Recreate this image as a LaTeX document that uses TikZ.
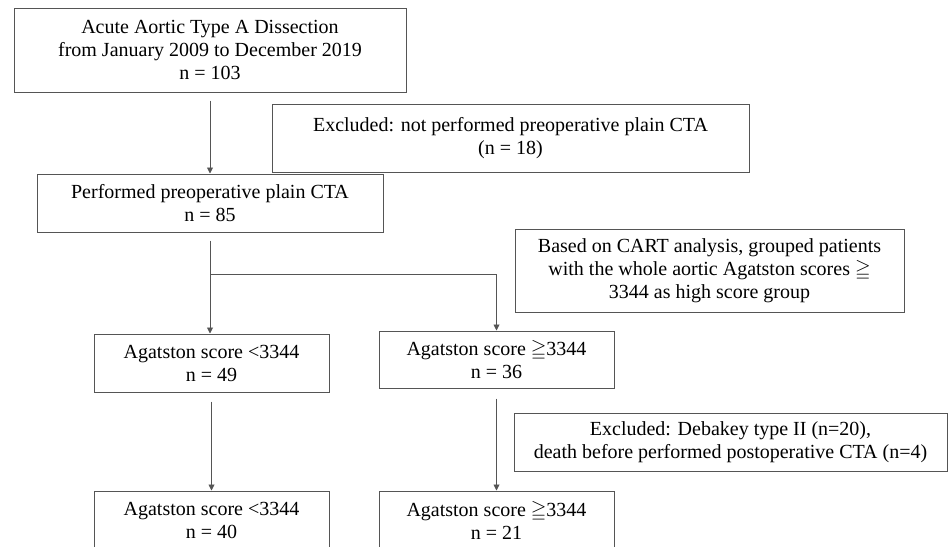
\documentclass[tikz,border=0pt]{standalone}
\usepackage{fontspec}
\usepackage{amsmath,amssymb}
\setmainfont{Liberation Serif}
\usetikzlibrary{positioning,arrows.meta,calc}
\definecolor{flowline}{RGB}{85,85,85}

\begin{document}
\begin{tikzpicture}[x=1pt, y=-1pt, every node/.style={font=\fontsize{20}{23}\selectfont}]
  \tikzset{
    stage/.style={draw=flowline, line width=1pt, align=center, inner sep=0pt, minimum height=58pt},
    flow/.style={draw=flowline, line width=0.9pt, -{Triangle[length=6pt, width=6pt]}}
  }
  \useasboundingbox (0,0) rectangle (949,546);

  % Main column
  \node[stage, minimum width=392pt, minimum height=84pt] (total) at (210, 50)
    {Acute Aortic Type A Dissection\\from January 2009 to December 2019\\n = 103};
  \node[stage, minimum width=477pt, minimum height=68pt] (exclCTA) at (510.5, 138)
    {Excluded: not performed preoperative plain CTA\\(n = 18)};
  \node[stage, minimum width=346pt] (plainCTA) at (210, 203)
    {Performed preoperative plain CTA\\n = 85};
  \node[stage, minimum width=389pt, minimum height=83pt] (cart) at (709.5, 270.5)
    {Based on CART analysis, grouped patients\\with the whole aortic Agatston scores $\geqq$\\3344 as high score group};

  % Score groups
  \node[stage, minimum width=235pt] (lowA) at (211.5, 363)
    {Agatston score <3344\\n = 49};
  \node[stage, minimum width=235pt, minimum height=57pt] (highA) at (496.5, 359.5)
    {Agatston score $\geqq$3344\\n = 36};
  \node[stage, minimum width=433pt] (exclDeb) at (730.5, 442)
    {Excluded: Debakey type II (n=20),\\death before performed postoperative CTA (n=4)};
  \node[stage, minimum width=235pt] (lowB) at (211.5, 520)
    {Agatston score <3344\\n = 40};
  \node[stage, minimum width=235pt] (highB) at (496.5, 520)
    {Agatston score $\geqq$3344\\n = 21};

  % Connectors
  \coordinate (split) at ($(plainCTA.south)+(0,42)$);
  \draw[flow, shorten <=8pt] (total.south) -- (total.south |- plainCTA.north);
  \draw[flow, shorten <=8pt] (plainCTA.south) -- (plainCTA.south |- lowA.north);
  \draw[flow] (split) -| (highA.north);
  \draw[flow, shorten <=9pt] (lowA.south) -- (lowB.north);
  \draw[flow, shorten <=10pt] (highA.south) -- (highB.north);
\end{tikzpicture}
\end{document}
